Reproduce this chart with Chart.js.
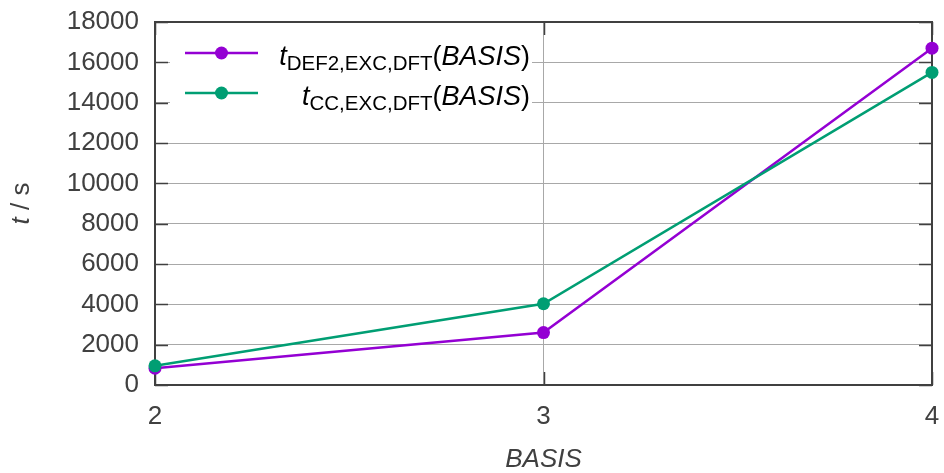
<!DOCTYPE html>
<html>
<head>
<meta charset="utf-8">
<script src="https://cdn.jsdelivr.net/npm/chart.js@4/dist/chart.umd.min.js"></script>
<style>
  html, body { margin: 0; padding: 0; background: #fff; }
  canvas { display: block; }
</style>
</head>
<body>
<canvas id="timeChart" width="944" height="473"></canvas>
<script>
// basis set level on x, wall time in seconds on y
var basis = [2, 3, 4];
var tDef2 = [830, 2600, 16700];
var tCC = [950, 4030, 15500];

var seriesSubs = ['DEF2,EXC,DFT', 'CC,EXC,DFT'];
var seriesColors = ['#9400d3', '#009e73'];

var yMin = 0, yMax = 18000, yStep = 2000;
var xMin = 2, xMax = 4, xStep = 1;

var FONT = '"Liberation Sans", Arial, sans-serif';
var AXIS_COL = '#404040';

function toXY(ys) {
  return basis.map(function (b, i) { return { x: b, y: ys[i] }; });
}

// frame + inward tick marks (gnuplot style)
var framePlugin = {
  id: 'frame',
  beforeDatasetsDraw: function (chart) {
    var ctx = chart.ctx, a = chart.chartArea;
    var xs = chart.scales.x, ys = chart.scales.y;
    var tl = 13;
    ctx.save();
    ctx.strokeStyle = AXIS_COL;
    ctx.lineWidth = 1.5;
    ctx.beginPath();
    ys.ticks.forEach(function (t) {
      var py = Math.round(ys.getPixelForValue(t.value)) + 0.5;
      ctx.moveTo(a.left, py); ctx.lineTo(a.left + tl, py);
      ctx.moveTo(a.right, py); ctx.lineTo(a.right - tl, py);
    });
    xs.ticks.forEach(function (t) {
      var px = Math.round(xs.getPixelForValue(t.value)) + 0.5;
      ctx.moveTo(px, a.bottom); ctx.lineTo(px, a.bottom - tl);
      ctx.moveTo(px, a.top); ctx.lineTo(px, a.top + tl);
    });
    ctx.stroke();
    ctx.lineWidth = 2;
    ctx.strokeRect(a.left, a.top, a.right - a.left, a.bottom - a.top);
    ctx.restore();
  },
  afterDraw: function (chart) {
    var ctx = chart.ctx, a = chart.chartArea;
    ctx.save();

    // axis titles
    ctx.fillStyle = AXIS_COL;
    ctx.textBaseline = 'middle';
    ctx.font = 'italic 26px ' + FONT;
    ctx.textAlign = 'center';
    ctx.fillText('BASIS', (a.left + a.right) / 2, 460);

    ctx.save();
    ctx.translate(22, (a.top + a.bottom) / 2);
    ctx.rotate(-Math.PI / 2);
    ctx.textAlign = 'left';
    ctx.font = 'italic 26px ' + FONT;
    var w1 = ctx.measureText('t').width;
    ctx.font = '26px ' + FONT;
    var w2 = ctx.measureText(' / s').width;
    var sx = -(w1 + w2) / 2;
    ctx.font = 'italic 26px ' + FONT;
    ctx.fillText('t', sx, 0);
    ctx.font = '26px ' + FONT;
    ctx.fillText(' / s', sx + w1, 0);
    ctx.restore();

    // legend
    ctx.fillStyle = '#fff';
    ctx.fillRect(170, 33, 362, 80);
    var rightEdge = 530;
    chart.data.datasets.forEach(function (ds, i) {
      var ly = 53 + i * 40;
      ctx.strokeStyle = ds.borderColor;
      ctx.lineWidth = 2.5;
      ctx.beginPath();
      ctx.moveTo(185, ly); ctx.lineTo(258, ly);
      ctx.stroke();
      ctx.fillStyle = ds.borderColor;
      ctx.beginPath();
      ctx.arc(221.5, ly, 6.5, 0, Math.PI * 2);
      ctx.fill();

      var base = ly + 12;
      var parts = [
        { t: 't', f: 'italic 27px ' + FONT, dy: 0 },
        { t: seriesSubs[i], f: '20.5px ' + FONT, dy: 5 },
        { t: '(', f: '27px ' + FONT, dy: 0 },
        { t: 'BASIS', f: 'italic 27px ' + FONT, dy: 0 },
        { t: ')', f: '27px ' + FONT, dy: 0 }
      ];
      var total = 0;
      parts.forEach(function (p) { ctx.font = p.f; p.w = ctx.measureText(p.t).width; total += p.w; });
      var x = rightEdge - total;
      ctx.fillStyle = '#000';
      ctx.textBaseline = 'alphabetic';
      ctx.textAlign = 'left';
      parts.forEach(function (p) {
        ctx.font = p.f;
        ctx.fillText(p.t, x, base + p.dy);
        x += p.w;
      });
    });
    ctx.restore();
  }
};

function plain(v) { return String(v); }

var ctx = document.getElementById('timeChart');
var timeChart = new Chart(ctx, {
  type: 'line',
  data: {
    datasets: [
      {
        label: 't DEF2,EXC,DFT (BASIS)',
        data: toXY(tDef2),
        borderColor: seriesColors[0],
        backgroundColor: seriesColors[0],
        borderWidth: 2.5,
        pointRadius: 6.5,
        pointBorderWidth: 0,
        fill: false,
        clip: false,
        order: 1
      },
      {
        label: 't CC,EXC,DFT (BASIS)',
        data: toXY(tCC),
        borderColor: seriesColors[1],
        backgroundColor: seriesColors[1],
        borderWidth: 2.5,
        pointRadius: 6.5,
        pointBorderWidth: 0,
        fill: false,
        clip: false,
        order: 0
      }
    ]
  },
  options: {
    responsive: false,
    devicePixelRatio: 1,
    animation: false,
    layout: { padding: { left: 0, right: 12, top: 22, bottom: 0 } },
    plugins: {
      legend: { display: false },
      tooltip: { enabled: false }
    },
    scales: {
      x: {
        type: 'linear',
        min: xMin,
        max: xMax,
        ticks: { stepSize: xStep, color: AXIS_COL, font: { family: FONT, size: 26 }, padding: 16, callback: plain },
        grid: { color: '#a8a8a8', lineWidth: 1, drawTicks: false },
        border: { display: false },
        afterFit: function (s) { s.height = 88; s.paddingLeft = 0; s.paddingRight = 0; }
      },
      y: {
        min: yMin,
        max: yMax,
        ticks: { stepSize: yStep, color: AXIS_COL, font: { family: FONT, size: 26 }, padding: 16, callback: plain },
        grid: { color: '#a8a8a8', lineWidth: 1, drawTicks: false },
        border: { display: false },
        afterFit: function (s) { s.width = 155; s.paddingTop = 0; s.paddingBottom = 0; }
      }
    }
  },
  plugins: [framePlugin]
});
</script>
</body>
</html>
